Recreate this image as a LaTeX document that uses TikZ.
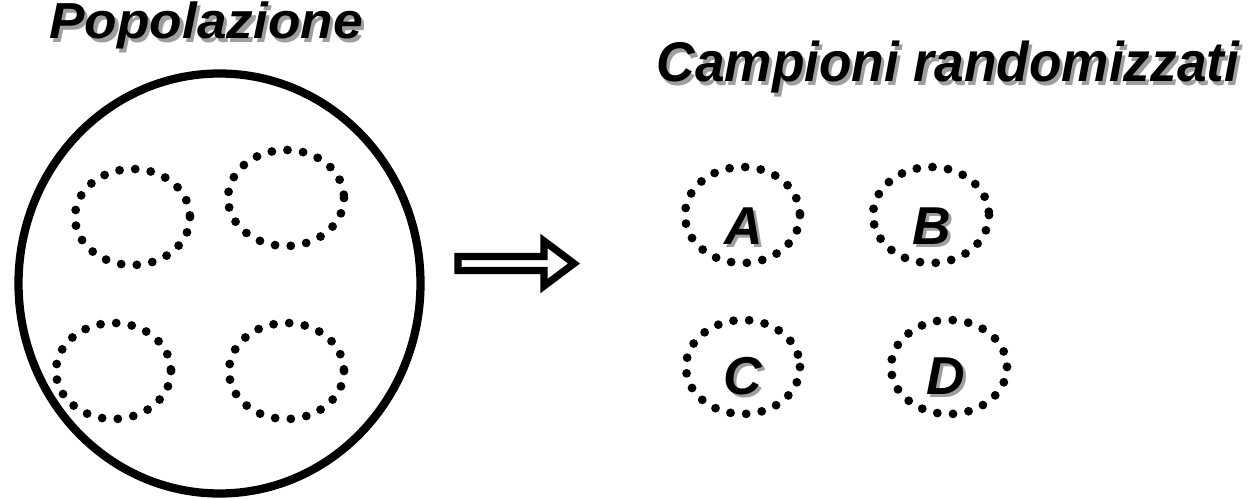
\documentclass[tikz,border=0pt]{standalone}
\usepackage{fontspec}
\setmainfont{Liberation Sans}
\usepackage{graphicx}
\definecolor{shade}{gray}{0.62}
% bold italic text with a soft grey drop shadow
\newcommand{\dropshadowed}[1]{\rlap{\kern2.4pt\raisebox{-2.4pt}{\textcolor{shade}{#1}}}#1}
\begin{document}
\begin{tikzpicture}[x=0.75pt,y=-0.75pt,
  titletext/.style={inner sep=0pt,anchor=base,font=\bfseries\itshape},
  lettertext/.style={inner sep=0pt,anchor=base,font=\fontsize{40pt}{46pt}\selectfont\bfseries\itshape},
  outline/.style={line width=6.2pt},
  dotring/.style={line width=6.6pt,line cap=round,dash pattern=on 0pt off 11.8pt},
  blockarrow/.style={line width=5.4pt,line join=miter,miter limit=10}]
\useasboundingbox (0,0) rectangle (1253,499);

% titles
\node[titletext] (pop) at (206,39)
  {\fontsize{38pt}{44pt}\selectfont\scalebox{1.05}[1]{\dropshadowed{Popolazione}}};
\node[titletext] (camp) at (948,82)
  {\fontsize{42pt}{48pt}\selectfont\scalebox{0.95}[1]{\dropshadowed{Campioni randomizzati}}};

% the population with four groups inside
\draw[outline] (219.5,283.5) ellipse [x radius=201, y radius=210];
\draw[dotring] (132.5,217) ellipse [x radius=57.5, y radius=48];
\draw[dotring] (286,198) ellipse [x radius=58, y radius=48];
\draw[dotring] (113.5,371) ellipse [x radius=57.5, y radius=48];
\draw[dotring] (286.5,371) ellipse [x radius=57.5, y radius=48];

% open block arrow
\draw[blockarrow] (458,256.5) -- (544,256.5) -- (544,241) -- (574,263.5)
  -- (544,286) -- (544,270.5) -- (458,270.5) -- cycle;

% randomised samples
\draw[dotring] (742.5,215) ellipse [x radius=57.5, y radius=48];
\draw[dotring] (931,215) ellipse [x radius=58, y radius=48];
\draw[dotring] (743,367) ellipse [x radius=57, y radius=47];
\draw[dotring] (949,367) ellipse [x radius=58, y radius=47];
\node[lettertext] (A) at (744,244) {\dropshadowed{A}};
\node[lettertext] (B) at (932,244) {\dropshadowed{B}};
\node[lettertext] (C) at (743,394) {\dropshadowed{C}};
\node[lettertext] (D) at (946,394) {\dropshadowed{D}};
\end{tikzpicture}
\end{document}
